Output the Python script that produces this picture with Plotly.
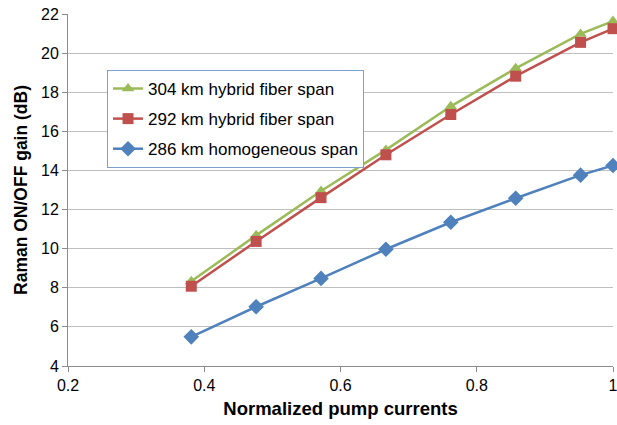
import plotly.graph_objects as go

x_vals = [8/21, 10/21, 12/21, 14/21, 16/21, 18/21, 20/21, 1.0]
green_304 = [8.33, 10.68, 12.95, 15.05, 17.28, 19.22, 20.98, 21.64]
red_292 = [8.08, 10.37, 12.61, 14.8, 16.86, 18.82, 20.55, 21.25]
blue_286 = [5.49, 7.03, 8.48, 9.97, 11.35, 12.58, 13.76, 14.25]

names = ["304 km hybrid fiber span", "292 km hybrid fiber span", "286 km homogeneous span"]
colors = ["#9BBB59", "#C0504D", "#4F81BD"]
symbols = ["triangle-up", "square", "diamond"]
sizes = [11, 11, 12]
series = [green_304, red_292, blue_286]

fig = go.Figure()
for i, (n, c, s, sz, y) in enumerate(zip(names, colors, symbols, sizes, series)):
    fig.add_trace(go.Scatter(
        x=x_vals, y=y, name=n, mode="lines+markers",
        line=dict(color=c, width=2.5),
        marker=dict(symbol=s, size=sz, color=c),
        legendgroup=f"g{i}",
        cliponaxis=False,
    ))

font_family = "Liberation Sans, Arial, sans-serif"
fig.update_layout(
    width=617, height=425,
    margin=dict(l=68, r=4, t=14, b=59, autoexpand=False),
    paper_bgcolor="white", plot_bgcolor="white",
    font=dict(family=font_family, size=16, color="#000"),
    showlegend=True,
    legend=dict(
        x=0.0716, y=0.841, xanchor="left", yanchor="top",
        bordercolor="#7F9FCF", borderwidth=1, bgcolor="white",
        font=dict(size=17, family=font_family),
        tracegroupgap=5, itemwidth=30,
    ),
    xaxis=dict(
        range=[0.2, 1.0], tickvals=[0.2, 0.4, 0.6, 0.8, 1.0],
        ticktext=["0.2", "0.4", "0.6", "0.8", "1"],
        ticklabeloverflow="allow", automargin=False,
        showgrid=False, showline=True, linecolor="#8c8c8c", linewidth=1,
        ticks="outside", ticklen=5, tickcolor="#8c8c8c",
        zeroline=False,
        title=dict(text="<b>Normalized pump currents</b>", font=dict(size=18.5), standoff=8),
    ),
    yaxis=dict(
        range=[4, 22], dtick=2, automargin=False,
        showgrid=True, gridcolor="#BFBFBF", gridwidth=1,
        showline=True, linecolor="#8c8c8c", linewidth=1,
        ticks="outside", ticklen=5, tickcolor="#8c8c8c",
        zeroline=False,
        title=dict(text="<b>Raman ON/OFF gain (dB)</b>", font=dict(size=17.5), standoff=8),
    ),
)

fig.write_html("out.html")
